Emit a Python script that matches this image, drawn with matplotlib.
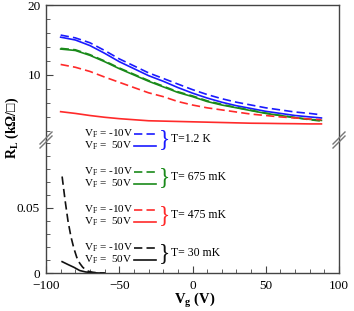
import matplotlib
matplotlib.use("Agg")
import matplotlib.pyplot as plt
from matplotlib.ticker import MultipleLocator
from matplotlib.lines import Line2D

plt.rcParams["font.family"] = ["Liberation Serif", "DejaVu Serif"]
plt.rcParams["mathtext.fontset"] = "custom"
plt.rcParams["mathtext.rm"] = "Liberation Serif"
plt.rcParams["mathtext.it"] = "Liberation Serif:italic"
plt.rcParams["mathtext.bf"] = "Liberation Serif:bold"

# --- donnees --------------------------------------------------------------
vg = [-90, -80, -70, -60, -50, -40, -30, -20, -10, 0, 10, 20, 30, 40, 50, 60, 70, 80, 88]

r_12K_m10 = [15.7, 15.3, 14.6, 13.5, 12.3, 11.3, 10.3, 9.5, 8.7, 7.9, 7.2, 6.6, 6.1, 5.7, 5.3, 5.0, 4.7, 4.5, 4.3]
r_12K_p50 = [15.4, 15.0, 14.2, 13.1, 11.9, 10.9, 9.9, 9.1, 8.2, 7.4, 6.7, 6.1, 5.6, 5.2, 4.8, 4.5, 4.2, 4.0, 3.85]
r_675_m10 = [13.8, 13.6, 12.9, 12.0, 11.0, 10.1, 9.2, 8.4, 7.6, 7.0, 6.3, 5.8, 5.35, 4.95, 4.55, 4.2, 3.9, 3.6, 3.4]
r_675_p50 = [13.7, 13.5, 12.8, 11.9, 10.9, 10.0, 9.1, 8.3, 7.5, 6.9, 6.2, 5.7, 5.3, 4.9, 4.5, 4.2, 3.9, 3.65, 3.5]
r_475_m10 = [11.5, 11.1, 10.5, 9.7, 8.95, 8.2, 7.45, 6.9, 6.2, 5.7, 5.3, 5.0, 4.7, 4.4, 4.2, 4.0, 3.85, 3.7, 3.6]
r_475_p50 = [4.75, 4.5, 4.2, 3.95, 3.75, 3.6, 3.45, 3.4, 3.35, 3.3, 3.25, 3.2, 3.15, 3.1, 3.08, 3.05, 3.03, 3.0, 3.0]

vg_30_m10 = [-89, -87, -85, -83, -81, -79, -77, -75, -73, -71, -68, -64, -60]
r_30_m10 = [0.074, 0.056, 0.040, 0.028, 0.019, 0.012, 0.0075, 0.0045, 0.0025, 0.0013, 0.0005, 0.0001, 0.0]
vg_30_p50 = [-89, -85, -81, -77, -73, -69, -64, -60]
r_30_p50 = [0.0087, 0.0065, 0.0044, 0.0019, 0.0008, 0.0003, 0.0, 0.0]

temperatures = ["T=1.2 K", "T= 675 mK", "T= 475 mK", "T= 30 mK"]
couleurs = ["#1a1aff", "#1a8a1a", "#ff2a2a", "#111111"]
vf_labels = [r"V$_{\mathrm{F}}$ = -10V", r"V$_{\mathrm{F}}$ =  50V"]

W, H = 354, 311
fig = plt.figure(figsize=(W / 100, H / 100), dpi=100)

x0, x1 = 46 / W, 339 / W
y_top, y_brk, y_bot = 1 - 5 / H, 1 - 140 / H, 1 - 273 / H
ax_h = fig.add_axes([x0, y_brk, x1 - x0, y_top - y_brk])
ax_b = fig.add_axes([x0, y_bot, x1 - x0, y_brk - y_bot])

lw = 1.2
dash = (0, (5, 2.5))
ax_h.plot(vg, r_12K_m10, color=couleurs[0], lw=lw, ls=dash)
ax_h.plot(vg, r_12K_p50, color=couleurs[0], lw=lw)
ax_h.plot(vg, r_675_m10, color=couleurs[1], lw=lw, ls=dash)
ax_h.plot(vg, r_675_p50, color=couleurs[1], lw=lw)
ax_h.plot(vg, r_475_m10, color=couleurs[2], lw=lw, ls=dash)
ax_h.plot(vg, r_475_p50, color=couleurs[2], lw=lw)
ax_b.plot(vg_30_m10, r_30_m10, color=couleurs[3], lw=lw, ls=dash)
ax_b.plot(vg_30_p50, r_30_p50, color=couleurs[3], lw=lw)

spine_c = "#444444"
for ax in (ax_h, ax_b):
    ax.set_xlim(-100, 100)
    for s in ax.spines.values():
        s.set_color(spine_c)
        s.set_linewidth(1.0)
    ax.tick_params(which="both", direction="in", colors=spine_c, labelcolor="black",
                   labelsize=9.5, right=False, top=False)
    ax.tick_params(which="major", length=5)
    ax.tick_params(which="minor", length=3)

ax_h.set_ylim(0.7, 20)
ax_h.spines["bottom"].set_visible(False)
ax_h.tick_params(axis="x", which="both", bottom=False, labelbottom=False)
ax_h.yaxis.set_minor_locator(MultipleLocator(2))
ax_h.set_yticks([10, 20])

ax_b.set_ylim(0, 0.102)
ax_b.spines["top"].set_visible(False)
ax_b.set_yticks([0, 0.05])
ax_b.set_yticklabels(["0", "0.05"])
ax_b.yaxis.set_minor_locator(MultipleLocator(0.01))
ax_b.xaxis.set_minor_locator(MultipleLocator(10))
ax_b.set_xticks([-100, -50, 0, 50, 100])
ax_b.set_xticklabels(["\u2212100", "\u221250", "0", "50", "100"])
ax_b.tick_params(axis="x", pad=5)
ax_b.tick_params(axis="y", pad=4.5)

# marques de coupure
for xp in (46, 339):
    for dy in (-2, 2):
        fig.add_artist(Line2D([(xp - 6) / W, (xp + 6) / W],
                              [1 - (140 + dy + 6) / H, 1 - (140 + dy - 6) / H],
                              color="#777777", lw=1.0))

# legende faite a la main
for i, (temp, c) in enumerate(zip(temperatures, couleurs)):
    yb = 134 + 38 * i
    for j, ls in enumerate((dash, "-")):
        yy = yb + 11.5 * j
        fig.text(84 / W, 1 - yy / H, vf_labels[j], ha="left", va="center", fontsize=8)
        fig.add_artist(Line2D([134 / W, 156 / W], [1 - yy / H, 1 - yy / H],
                              color=c, lw=lw, ls=ls))
    fig.text(159 / W, 1 - (yb + 5.75) / H, "}", color=c, ha="left", va="center", fontsize=17)
    fig.text(171 / W, 1 - (yb + 5) / H, temp, ha="left", va="center", fontsize=8.5)

fig.text(12 / W, 1 - 128 / H, "R$_{\\mathbf{L}}$ (k\u03a9/\u25a1)",
         rotation=90, ha="center", va="center", fontsize=10, fontweight="bold")
fig.text(195 / W, 1 - 301 / H, r"V$_{\mathbf{g}}$ (V)", ha="center", va="center",
         fontsize=10.5, fontweight="bold")

fig.savefig("out.png", dpi=100)
